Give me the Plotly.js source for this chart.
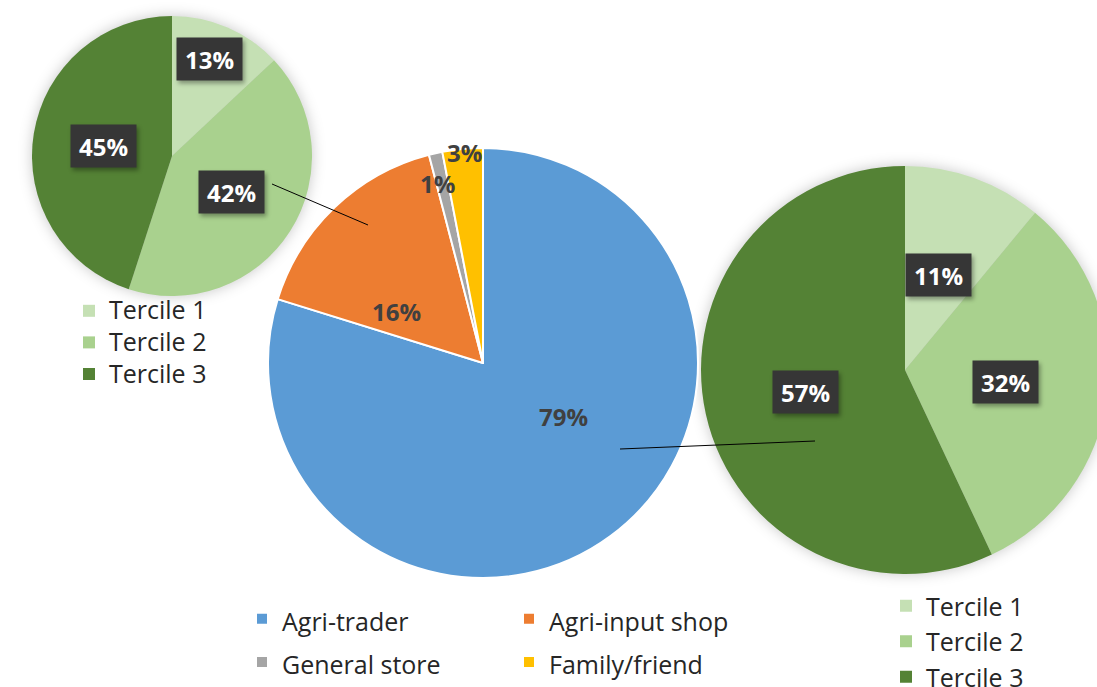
<!DOCTYPE html>
<html><head><meta charset="utf-8">
<script src="https://cdn.plot.ly/plotly-3.0.1.min.js"></script>
<style>
html,body{margin:0;padding:0;overflow:hidden;background:#fff;width:1097px;height:687px}
#a{position:absolute;left:0;top:0;width:1115px;height:687px}
#b{position:absolute;left:240px;top:0;width:600px;height:687px}
#a g.pielayer g.trace{filter:drop-shadow(0 0 7px rgba(0,0,0,0.22))}
#a g.annotation-text-g rect.bg{filter:drop-shadow(2px 3px 2px rgba(0,0,0,0.35))}
</style></head><body>
<div id="a"></div><div id="b"></div>
<script>
// ---- data ----
const sourceCategories = ['Agri-trader', 'Agri-input shop', 'General store', 'Family/friend'];
const sourceShares = [79, 16, 1, 3];
const tercileLabels = ['Tercile 1', 'Tercile 2', 'Tercile 3'];
const inputShopTerciles = [13, 42, 45];   // small pie, top left (Agri-input shop)
const agriTraderTerciles = [11, 32, 57];  // large pie, right (Agri-trader)

// ---- styles ----
const mainColors = ['#5b9bd5', '#ed7d31', '#a5a5a5', '#ffc000'];
const tercileColors = ['#c5e0b4', '#a9d18e', '#548235'];
const FONT = 'Open Sans, Noto Sans, sans-serif';
const H = 687;
const WA = 1115, WB = 600, BOFF = 240;

// pixel -> paper helpers
const px = (x, W) => x / W;
const py = y => 1 - y / H;
const sized = (names, s) => names.map(n => '<span style="font-size:' + s + 'px">' + n + '</span>');

// label positions (page pixels, centres)
const leftLabelPos = [[209, 59], [231, 192], [103, 146]];
const rightLabelPos = [[938, 275], [1005, 382], [805, 392]];
const mainLabelPos = [[563, 416], [396, 311], [437, 183], [464, 152]];

function boxAnn(v, p, W, off) {
  return {
    x: px(p[0] - off, W), y: py(p[1]), xref: 'paper', yref: 'paper',
    text: v + '%', showarrow: false, xanchor: 'center', yanchor: 'middle',
    bgcolor: '#363636', width: 56, height: 33, borderpad: 4.5,
    font: {family: FONT, size: 24, color: '#ffffff', weight: 700}
  };
}

// ---- plot A: the two tercile pies ----
const leftPie = {
  type: 'pie', labels: sized(tercileLabels, 25), values: inputShopTerciles,
  sort: false, direction: 'clockwise', rotation: 0,
  marker: {colors: tercileColors, line: {width: 0}},
  textinfo: 'none', hoverinfo: 'label+value',
  domain: {x: [px(32, WA), px(312, WA)], y: [py(296), py(16)]},
  legend: 'legend', legendgroup: 'left'
};
const rightPie = {
  type: 'pie', labels: sized(tercileLabels, 25), values: agriTraderTerciles,
  sort: false, direction: 'clockwise', rotation: 0,
  marker: {colors: tercileColors, line: {width: 0}},
  textinfo: 'none', hoverinfo: 'label+value',
  domain: {x: [px(701, WA), px(1109, WA)], y: [py(574), py(166)]},
  legend: 'legend2', legendgroup: 'right'
};
const annA = [];
inputShopTerciles.forEach((v, i) => annA.push(boxAnn(v, leftLabelPos[i], WA, 0)));
agriTraderTerciles.forEach((v, i) => annA.push(boxAnn(v, rightLabelPos[i], WA, 0)));

const layoutA = {
  width: WA, height: H, margin: {l: 0, r: 0, t: 0, b: 0, autoexpand: false},
  paper_bgcolor: '#ffffff', plot_bgcolor: '#ffffff',
  font: {family: FONT, color: '#262626'},
  legend: {x: px(69, WA), y: py(290), xanchor: 'left', yanchor: 'top',
    orientation: 'v', bgcolor: 'rgba(0,0,0,0)', font: {family: FONT, size: 22, color: '#262626'}},
  legend2: {x: px(886, WA), y: py(583), xanchor: 'left', yanchor: 'top',
    orientation: 'v', bgcolor: 'rgba(0,0,0,0)', font: {family: FONT, size: 25, color: '#262626'}},
  annotations: annA,
  showlegend: true
};
Plotly.newPlot('a', [leftPie, rightPie], layoutA, {staticPlot: true});

// ---- plot B: main pie ----
const mainPie = {
  type: 'pie', labels: sized(sourceCategories, 25), values: sourceShares,
  sort: false, direction: 'clockwise', rotation: 0,
  marker: {colors: mainColors, line: {color: '#ffffff', width: 2}},
  textinfo: 'none', hoverinfo: 'label+value',
  domain: {x: [px(268 - BOFF, WB), px(698 - BOFF, WB)], y: [py(578), py(148)]}
};
const annB = sourceShares.map((v, i) => ({
  x: px(mainLabelPos[i][0] - BOFF, WB), y: py(mainLabelPos[i][1]), xref: 'paper', yref: 'paper',
  text: v + '%', showarrow: false, xanchor: 'center', yanchor: 'middle',
  font: {family: FONT, size: 24, color: '#404040', weight: 700}
}));
const shapesB = [
  {type: 'line', xref: 'paper', yref: 'paper', x0: px(272 - BOFF, WB), y0: py(184), x1: px(368 - BOFF, WB), y1: py(225), line: {color: '#000', width: 1}},
  {type: 'line', xref: 'paper', yref: 'paper', x0: px(620 - BOFF, WB), y0: py(449), x1: px(815 - BOFF, WB), y1: py(441), line: {color: '#000', width: 1}}
];
const layoutB = {
  width: WB, height: H, margin: {l: 0, r: 0, t: 0, b: 0, autoexpand: false},
  paper_bgcolor: 'rgba(0,0,0,0)', plot_bgcolor: 'rgba(0,0,0,0)',
  font: {family: FONT, color: '#262626'},
  legend: {x: px(2, WB), y: py(592), xanchor: 'left', yanchor: 'top',
    orientation: 'h', entrywidth: 222, entrywidthmode: 'pixels',
    bgcolor: 'rgba(0,0,0,0)', font: {family: FONT, size: 31, color: '#262626'}},
  annotations: annB, shapes: shapesB, showlegend: true
};
Plotly.newPlot('b', [mainPie], layoutB, {staticPlot: true});
</script></body></html>
